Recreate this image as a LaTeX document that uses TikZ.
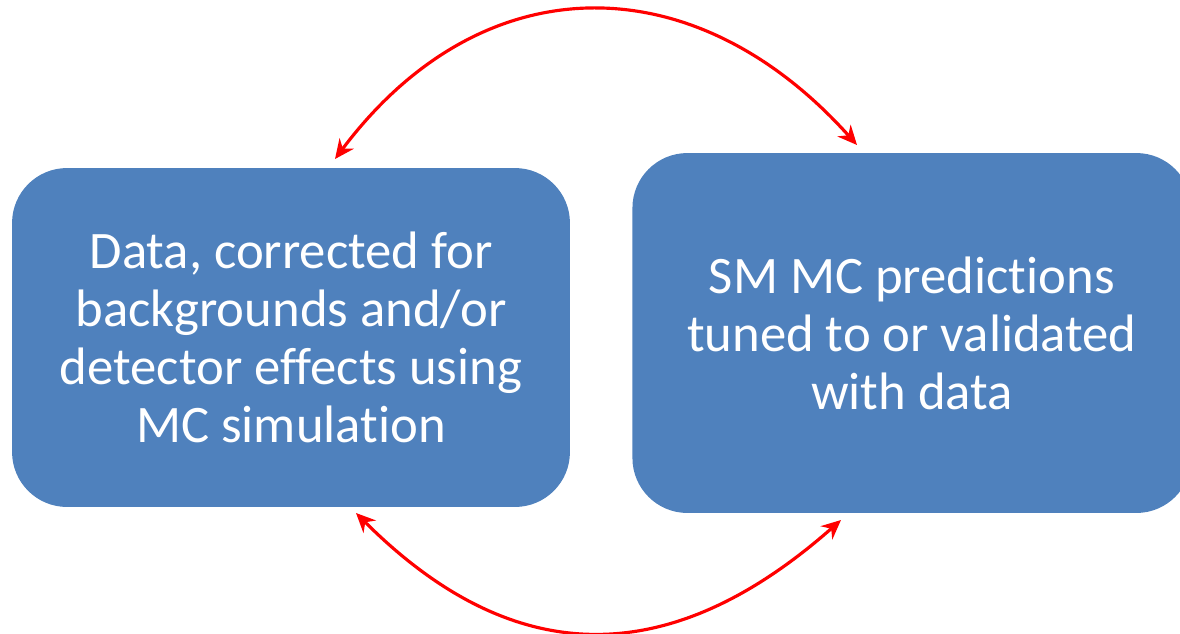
\documentclass[tikz,border=0pt]{standalone}
\usepackage{fontspec}
\setmainfont[Ligatures=NoCommon]{Carlito}
\usepackage{xcolor}
\usetikzlibrary{arrows.meta, positioning}
\definecolor{boxblue}{HTML}{4F81BD}

\begin{document}
\begin{tikzpicture}[x=0.02cm,y=-0.02cm,on grid,
        box/.style={rectangle, rounded corners=1.1cm, fill=boxblue, text=white,
            align=center, inner sep=0pt, font=\fontsize{30}{33}\selectfont},
        loop/.style={red, line width=1.8pt, {Stealth[length=11pt,width=10pt]}-{Stealth[length=11pt,width=10pt]}}]
    \useasboundingbox (0,0) rectangle (1180,633);
    \clip (0,0) rectangle (1180,633);

    \node[box, minimum width=11.16cm, minimum height=6.78cm] (data) at (291,337.5)
        {Data, corrected for\\backgrounds and/or\\detector effects using\\MC simulation};
    \node[box, minimum width=11.18cm, minimum height=7.2cm] (mc) [right=12.42cm of data, yshift=0.09cm]
        {SM MC predictions\\tuned to or validated\\with data};

    % arrow ends
    \coordinate (tl) at (335,159);
    \coordinate (tr) at (857,145);
    \coordinate (bl) at (356,513);
    \coordinate (br) at (841,520);

    \draw[loop] (tl) .. controls (482,-37) and (694,-37) .. (tr);
    \draw[loop] (bl) .. controls (514,671) and (670,671) .. (br);
\end{tikzpicture}
\end{document}
